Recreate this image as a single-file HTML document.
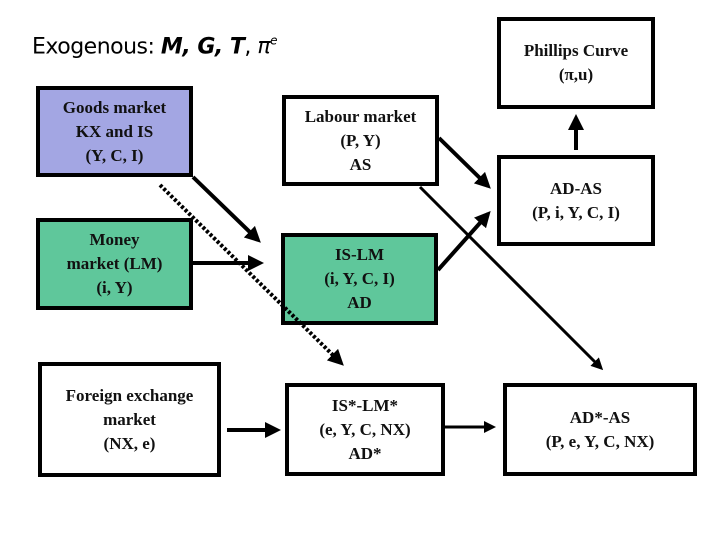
<!DOCTYPE html>
<html><head><style>
body{margin:0;background:#fff;}
.b{position:absolute;box-sizing:border-box;border:4px solid #000;display:flex;align-items:center;justify-content:center;text-align:center;font:bold 17px/24px "Liberation Serif",serif;color:#111;}
</style></head><body>
<div style="position:relative;width:720px;height:540px;overflow:hidden;">
<div style="position:absolute;left:32px;top:34px;font:22px 'DejaVu Sans','Liberation Sans',sans-serif;color:#000;letter-spacing:-0.5px;">Exogenous: <b><i>M, G, T</i></b>, <i>π<sup style="font-size:12px">e</sup></i></div>
<div class="b" style="left:36px;top:86px;width:157px;height:91px;background:#a3a6e3;">Goods market<br>KX and IS<br>(Y, C, I)</div>
<div class="b" style="left:282px;top:95px;width:157px;height:91px;background:#fff;">Labour market<br>(P, Y)<br>AS</div>
<div class="b" style="left:497px;top:17px;width:158px;height:92px;background:#fff;">Phillips Curve<br>(π,u)</div>
<div class="b" style="left:497px;top:155px;width:158px;height:91px;background:#fff;">AD-AS<br>(P, i, Y, C, I)</div>
<div class="b" style="left:36px;top:218px;width:157px;height:92px;background:#5fc79b;">Money<br>market (LM)<br>(i, Y)</div>
<div class="b" style="left:281px;top:233px;width:157px;height:92px;background:#5fc79b;">IS-LM<br>(i, Y, C, I)<br>AD</div>
<div class="b" style="left:38px;top:362px;width:183px;height:115px;background:#fff;">Foreign exchange<br>market<br>(NX, e)</div>
<div class="b" style="left:285px;top:383px;width:160px;height:93px;background:#fff;">IS*-LM*<br>(e, Y, C, NX)<br>AD*</div>
<div class="b" style="left:503px;top:383px;width:194px;height:93px;background:#fff;">AD*-AS<br>(P, e, Y, C, NX)</div>
<svg width="720" height="540" style="position:absolute;left:0;top:0" >
<defs><marker id="a" markerWidth="4" markerHeight="4" refX="3" refY="2" orient="auto" markerUnits="strokeWidth"><path d="M0,0 L4,2 L0,4z" fill="#000"/></marker></defs>
<g stroke="#000" stroke-width="4" fill="none" marker-end="url(#a)">
<line x1="193" y1="177" x2="258" y2="240"/>
<line x1="193" y1="263" x2="260" y2="263"/>
<line x1="160" y1="185" x2="341" y2="363" stroke-dasharray="3,2"/>
<line x1="420" y1="187" x2="601" y2="368" stroke-width="3"/>
<line x1="439" y1="138" x2="488" y2="186"/>
<line x1="438" y1="270" x2="488" y2="214"/>
<line x1="576" y1="150" x2="576" y2="118"/>
<line x1="227" y1="430" x2="277" y2="430"/>
<line x1="445" y1="427" x2="493" y2="427" stroke-width="3"/>
</g></svg>
</div></body></html>
